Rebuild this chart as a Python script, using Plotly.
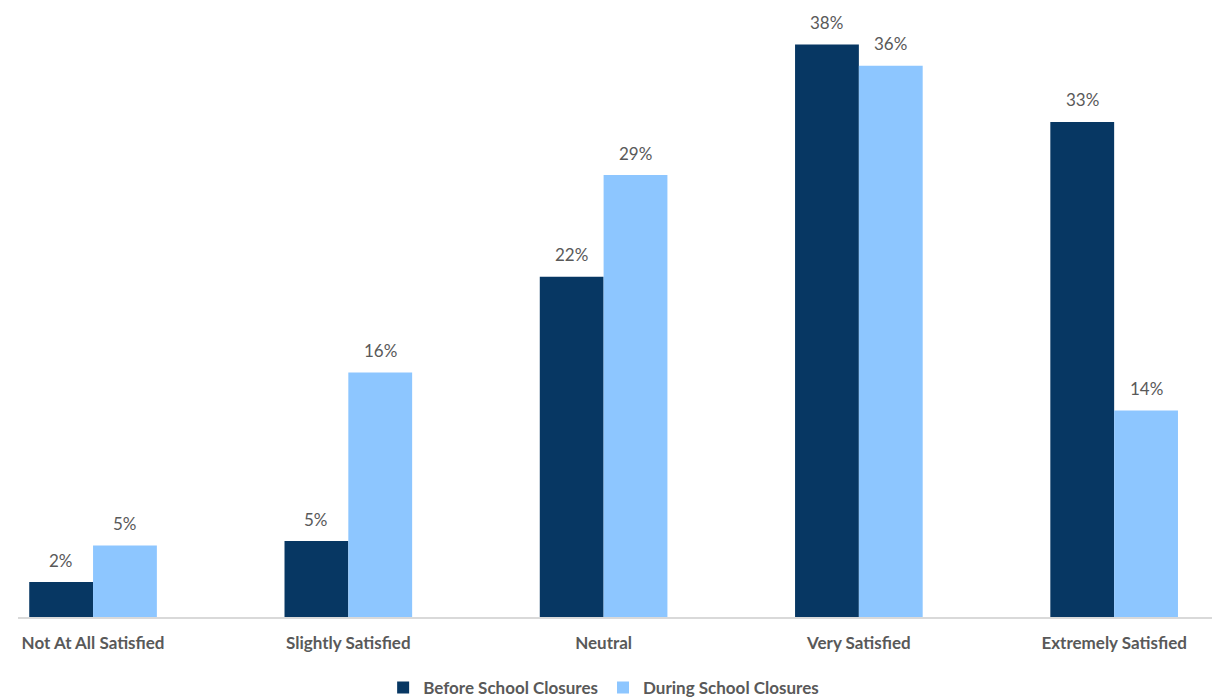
import plotly.graph_objects as go

categories = ["Not At All Satisfied", "Slightly Satisfied", "Neutral", "Very Satisfied", "Extremely Satisfied"]
# values; labels show rounded percentages
before = [2.3, 5.0, 22.4, 37.7, 32.6]
during = [4.7, 16.1, 29.1, 36.3, 13.6]
before_labels = ["2%", "5%", "22%", "38%", "33%"]
during_labels = ["5%", "16%", "29%", "36%", "14%"]
series_names = ["Before School Closures", "During School Closures"]
colors = ["#073763", "#8DC6FF"]

FONT = "Lato"
GREY = "#595959"

fig = go.Figure()
for name, vals, col in zip(series_names, [before, during], colors):
    fig.add_trace(go.Bar(
        x=categories, y=vals, name=name, marker_color=col,
        marker_line_width=0,
    ))

for vals, labels, shift in [(before, before_labels, -32), (during, during_labels, 32)]:
    for c, v, t in zip(categories, vals, labels):
        fig.add_annotation(x=c, y=v, text=t, showarrow=False, xref="x", yref="y",
                           xshift=shift, yshift=22, yanchor="middle",
                           font=dict(family=FONT, size=17, color=GREY))

fig.update_layout(
    width=1220, height=698,
    margin=dict(l=10, r=0, t=0, b=81),
    paper_bgcolor="white", plot_bgcolor="white",
    barmode="group", bargap=0.5, bargroupgap=0,
    font=dict(family=FONT, color=GREY),
    legend=dict(orientation="h", x=0.484, xanchor="center", y=-0.117, yanchor="middle",
                font=dict(family=FONT, size=17, color=GREY, weight="bold"),
                itemwidth=30, traceorder="normal"),
    showlegend=True,
)
fig.update_xaxes(range=[-0.294, 4.446], showline=True, linecolor="#D9D9D9", linewidth=1.5,
                 tickfont=dict(family=FONT, size=17, color=GREY, weight="bold"),
                 ticklabelstandoff=10, showgrid=False)
fig.update_yaxes(range=[0, 40.1], visible=False, showgrid=False)
fig.write_html("out.html")
